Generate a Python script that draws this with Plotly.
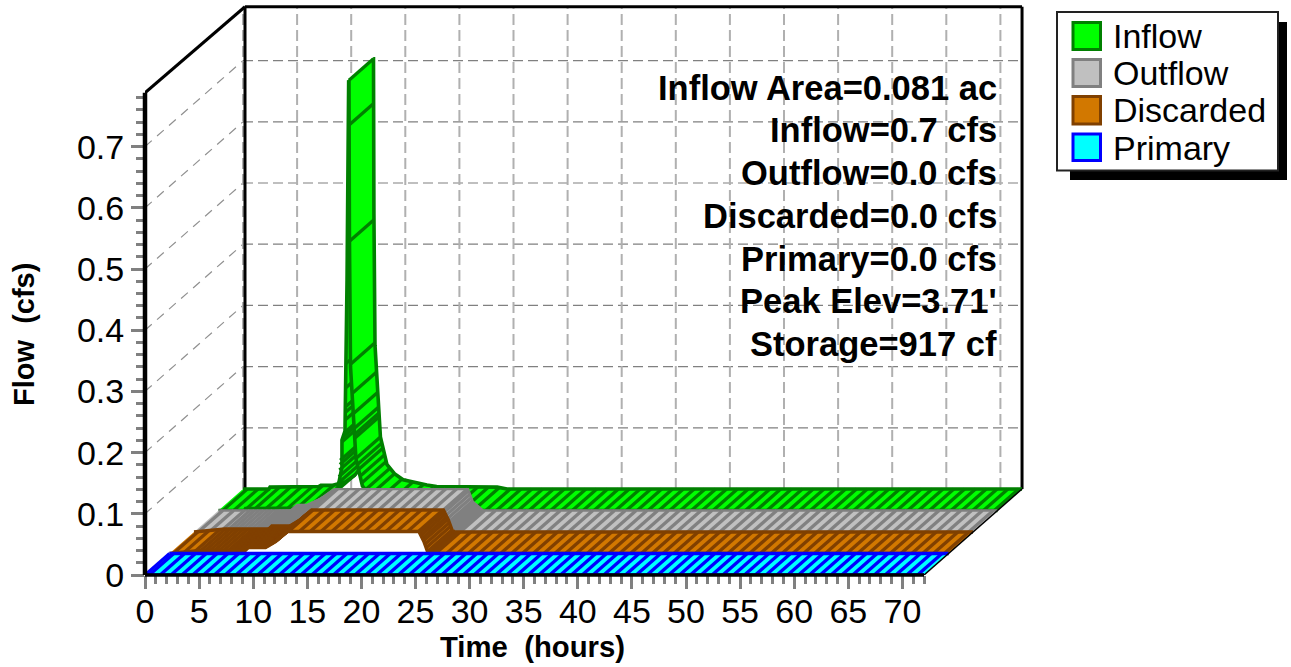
import numpy as np
import plotly.graph_objects as go

# ---------- data ----------
TIME_INFLOW = [0, 2.4, 2.5, 7.0, 7.2, 8.3, 9.5, 10.3, 11.04, 11.41, 11.41, 11.69, 11.88, 12.03,
               12.06, 12.1, 12.2, 12.7, 13.3, 14.0, 14.8, 17.0, 17.9, 23.5, 24.4, 72]
FLOW_INFLOW = [0, 0, 0.003, 0.004, 0.006, 0.006, 0.012, 0.022, 0.038, 0.071, 0.115, 0.13, 0.376, 0.703,
               0.703, 0.45, 0.235, 0.085, 0.04, 0.025, 0.015, 0.0065, 0.004, 0.003, 0, 0]
PEAK_INDEX = 14
TIME_OUTFLOW = [0, 7.07, 7.3, 8.2, 8.9, 9.54, 10.77, 23.06, 23.5, 24.44, 72]
FLOW_OUTFLOW = [0, 0, 0.009, 0.009, 0.0144, 0.02, 0.035, 0.035, 0.0144, 0, 0]
TIME_DISCARDED = [0, 2.85, 7.0, 7.2, 8.87, 9.8, 10.88, 23.05, 23.5, 23.85, 24.1, 72]
FLOW_DISCARDED = [0, 0.005, 0.005, 0.0098, 0.0098, 0.0196, 0.036, 0.036, 0.02, 0.003, 0, 0]
TIME_PRIMARY = [0, 72]
FLOW_PRIMARY = [0, 0]

SERIES_NAMES = ["Inflow", "Outflow", "Discarded", "Primary"]
FILL_COLORS = ["#00FF00", "#C0C0C0", "#D27800", "#00FFFF"]
EDGE_COLORS = ["#008000", "#808080", "#804000", "#0000FF"]
EDGE_WIDTHS = [3.6, 2.4, 3.4, 3.4]

X_MAJOR = list(range(0, 71, 5))
X_MINOR = [t for t in range(0, 73) if t % 5]
Y_MAJOR = [0, 0.1, 0.2, 0.3, 0.4, 0.5, 0.6, 0.7]
Y_MAJOR_LABELS = ["0", "0.1", "0.2", "0.3", "0.4", "0.5", "0.6", "0.7"]
Y_MINOR = [round(0.02 * i, 2) for i in range(0, 40) if i % 5]

INFO_LINES = ["Inflow Area=0.081 ac", "Inflow=0.7 cfs", "Outflow=0.0 cfs", "Discarded=0.0 cfs",
              "Primary=0.0 cfs", "Peak Elev=3.71'", "Storage=917 cf"]

# ---------- layout constants ----------
W, H = 1291, 667
X0, Y0 = 145, 575
PX_PER_H, PX_PER_CFS = 10.82, 612.0
DT = 98 / PX_PER_H
DV = 86 / PX_PER_CFS
DT_WALL = 100 / PX_PER_H
T_END, V_TOP = 72, 0.788
HATCH_STEP = 1.0
FONT = "Liberation Sans, Arial, sans-serif"


def px(x, y):
    return (x - X0) / (W - X0), (Y0 - y) / Y0


traces = []


def line(xs, ys, color, width, dash=None, name=None):
    traces.append(go.Scatter(x=xs, y=ys, mode="lines", cliponaxis=False, hoverinfo="skip",
                             line=dict(color=color, width=width, dash=dash, simplify=False),
                             showlegend=False, name=name))


def ribbon(t, v, k, fill, edge, edge_w, hatch_t, name):
    t = np.asarray(t, float)
    v = np.asarray(v, float)
    fx, fy = t + k / 4 * DT, v + k / 4 * DV
    bx, by = t + (k + 1) / 4 * DT, v + (k + 1) / 4 * DV
    qx, qy = [], []
    for i in range(len(t) - 1):
        xs = [fx[i], fx[i + 1], bx[i + 1], bx[i]]
        ys = [fy[i], fy[i + 1], by[i + 1], by[i]]
        area = sum(xs[j] * ys[(j + 1) % 4] - xs[(j + 1) % 4] * ys[j] for j in range(4))
        if area < 0:
            xs, ys = xs[::-1], ys[::-1]
        qx += xs + [None]
        qy += ys + [None]
    traces.append(go.Scatter(x=qx, y=qy, mode="lines", fill="toself", fillcolor=fill, cliponaxis=False,
                             line=dict(width=0, color=fill), hoverinfo="skip", showlegend=False, name=name))
    hx, hy = [], []
    for h_t, h_v in hatch_t:
        hx += [h_t + k / 4 * DT, h_t + (k + 1) / 4 * DT, None]
        hy += [h_v + k / 4 * DV, h_v + (k + 1) / 4 * DV, None]
    line(hx, hy, edge, 3.3, name=name + " hatch")
    line(list(fx), list(fy), edge, edge_w, name=name + " front")
    line(list(bx), list(by), edge, edge_w, name=name + " back")


def hatch_at(times, t, v):
    return [(h, float(np.interp(h, t, v))) for h in times]


# grid on the walls
for y in Y_MAJOR[1:]:
    line([0 + DT, T_END + DT], [y + DV, y + DV], "#808080", 1.2, "10px,5px")
    line([0, DT], [y, y + DV], "#909090", 1.2, "9px,7px")
for t in X_MAJOR:
    line([t + DT, t + DT], [DV, V_TOP + DV], "#B0B0B0", 2, "11px,5px")

# walls
line([DT_WALL, T_END + DT], [V_TOP + DV, V_TOP + DV], "black", 3)
line([T_END + DT, T_END + DT], [DV, V_TOP + DV], "black", 3)
line([DT_WALL, DT_WALL], [DV, V_TOP + DV], "black", 3)
line([0, DT_WALL], [V_TOP, V_TOP + DV], "black", 3)

# ribbons, back to front
t_in, v_in = TIME_INFLOW, FLOW_INFLOW
p = PEAK_INDEX
rise_levels = [0.6, 0.44, 0.24, 0.2, 0.169, 0.16, 0.148, 0.127, 0.12, 0.112, 0.082, 0.075, 0.066, 0.055, 0.045]
rise_hatch = [(float(np.interp(l, [v_in[i] for i in (8, 10, 11, 12, 13)],
                                [t_in[i] for i in (8, 10, 11, 12, 13)])), l) for l in rise_levels]
rise_hatch += hatch_at(list(np.arange(0.4, 11.0, HATCH_STEP)), t_in, v_in)
ribbon(t_in[:p], v_in[:p], 3, FILL_COLORS[0], EDGE_COLORS[0], EDGE_WIDTHS[0], rise_hatch, SERIES_NAMES[0] + " rise")
fall_levels = [0.703, 0.63, 0.44, 0.239, 0.191, 0.158, 0.134, 0.124, 0.118, 0.085, 0.075, 0.067, 0.056, 0.045,
               0.034, 0.025]
fall_t = t_in[p:p + 7]
fall_v = v_in[p:p + 7]
fall_hatch = [(float(np.interp(l, fall_v[::-1], fall_t[::-1])), l) for l in fall_levels]
fall_hatch += hatch_at(list(np.arange(14.7, 72.0, HATCH_STEP)), t_in, v_in)
ribbon(t_in[p - 1:], v_in[p - 1:], 3, FILL_COLORS[0], EDGE_COLORS[0], EDGE_WIDTHS[0], fall_hatch, SERIES_NAMES[0] + " fall")

common = list(np.arange(11.0, 23.0, HATCH_STEP)) + list(np.arange(0.4, 2.8, HATCH_STEP)) + list(np.arange(24.6, 72.0, HATCH_STEP))
dense = list(np.arange(2.9, 5.6, 0.42)) + list(np.arange(5.6, 10.9, 0.13)) + list(np.arange(23.0, 24.5, 0.12))
ribbon(TIME_OUTFLOW, FLOW_OUTFLOW, 2, FILL_COLORS[1], EDGE_COLORS[1], EDGE_WIDTHS[1],
       hatch_at(common + dense, TIME_OUTFLOW, FLOW_OUTFLOW), SERIES_NAMES[1])
ribbon(TIME_DISCARDED, FLOW_DISCARDED, 1, FILL_COLORS[2], EDGE_COLORS[2], EDGE_WIDTHS[2],
       hatch_at(common + dense, TIME_DISCARDED, FLOW_DISCARDED), SERIES_NAMES[2])
ribbon(TIME_PRIMARY, FLOW_PRIMARY, 0, FILL_COLORS[3], EDGE_COLORS[3], EDGE_WIDTHS[3],
       hatch_at(list(np.arange(0.4, 72.0, HATCH_STEP)), TIME_PRIMARY, FLOW_PRIMARY), SERIES_NAMES[3])

# thin black end of the floor
line([T_END, T_END + DT], [0, DV], "black", 1.5)

fig = go.Figure(traces)

shapes = []


def rect(x0, y0, x1, y1, fill, edge, width):
    a, b = px(x0, y0)
    c, d = px(x1, y1)
    shapes.append(dict(type="rect", xref="paper", yref="paper", x0=a, y0=b, x1=c, y1=d,
                       fillcolor=fill, line=dict(color=edge, width=width), layer="above"))


def seg(t0, v0, t1, v1, color, width):
    shapes.append(dict(type="line", xref="paper", yref="paper",
                       x0=t0 * PX_PER_H / (W - X0), y0=v0 * PX_PER_CFS / Y0,
                       x1=t1 * PX_PER_H / (W - X0), y1=v1 * PX_PER_CFS / Y0,
                       line=dict(color=color, width=width), layer="above"))


# front axis lines
seg(0, 0, DT / 4, DV / 4, "#0000FF", 3)
seg(0, 0, T_END, 0, "black", 3.5)
seg(0, 0, 0, V_TOP, "black", 4.5)

rect(1070, 22, 1287, 180, "black", "black", 0)
rect(1057, 12, 1278, 170.5, "white", "#222222", 2)
annotations = []


def text(x, y, s, size, bold=False, anchor="left", angle=0):
    a, b = px(x, y)
    annotations.append(dict(xref="paper", yref="paper", x=a, y=b, text=("<b>%s</b>" % s) if bold else s,
                            showarrow=False, xanchor=anchor, yanchor="middle", textangle=angle,
                            font=dict(family=FONT, size=size, color="black"), borderpad=0, borderwidth=0))


swatch_y = [(22.5, 49.5), (59.5, 86.5), (96.5, 124), (134, 160.5)]
label_y = [36, 73, 110, 148]
for i, name in enumerate(SERIES_NAMES):
    rect(1073, swatch_y[i][0], 1100.5, swatch_y[i][1], FILL_COLORS[i], EDGE_COLORS[i], 3)
    text(1113, label_y[i], name, 34)

info_y = [88.5, 130.5, 172.5, 215.5, 258.5, 300.5, 343.5]
for s, y in zip(INFO_LINES, info_y):
    text(997, y, s, 34.5, bold=True, anchor="right")
text(532.5, 646.5, "Time\u00a0\u00a0(hours)", 29.3, bold=True, anchor="center")
text(24, 335, "Flow\u00a0\u00a0(cfs)", 29, bold=True, anchor="center", angle=-90)

fig.update_layout(
    width=W, height=H, autosize=False, showlegend=False,
    margin=dict(l=X0, r=0, t=0, b=H - Y0, pad=0),
    paper_bgcolor="white", plot_bgcolor="white", hovermode=False,
    shapes=shapes, annotations=annotations,
    font=dict(family=FONT, size=34, color="black"),
    xaxis=dict(range=[0, (W - X0) / PX_PER_H], tickmode="array", tickvals=X_MAJOR,
               ticktext=[str(t) for t in X_MAJOR], ticks="outside", ticklen=13, tickwidth=3,
               tickcolor="#808080", showgrid=False, zeroline=False, showline=False, tickangle=0,
               tickfont=dict(size=34), ticklabelstandoff=-7,
               minor=dict(tickmode="array", tickvals=X_MINOR, ticks="outside", ticklen=8, tickwidth=2.5,
                          tickcolor="#808080", showgrid=False)),
    yaxis=dict(range=[0, Y0 / PX_PER_CFS], tickmode="array", tickvals=Y_MAJOR, ticktext=Y_MAJOR_LABELS,
               ticks="outside", ticklen=13, tickwidth=3, tickcolor="#808080", showgrid=False,
               zeroline=False, showline=False, tickfont=dict(size=34),
               minor=dict(tickmode="array", tickvals=Y_MINOR, ticks="outside", ticklen=8, tickwidth=2.5,
                          tickcolor="#808080", showgrid=False)),
)
fig.write_html("out.html", config=dict(displayModeBar=False),
               post_script="document.body.style.margin='0';document.documentElement.style.overflow='hidden';")
